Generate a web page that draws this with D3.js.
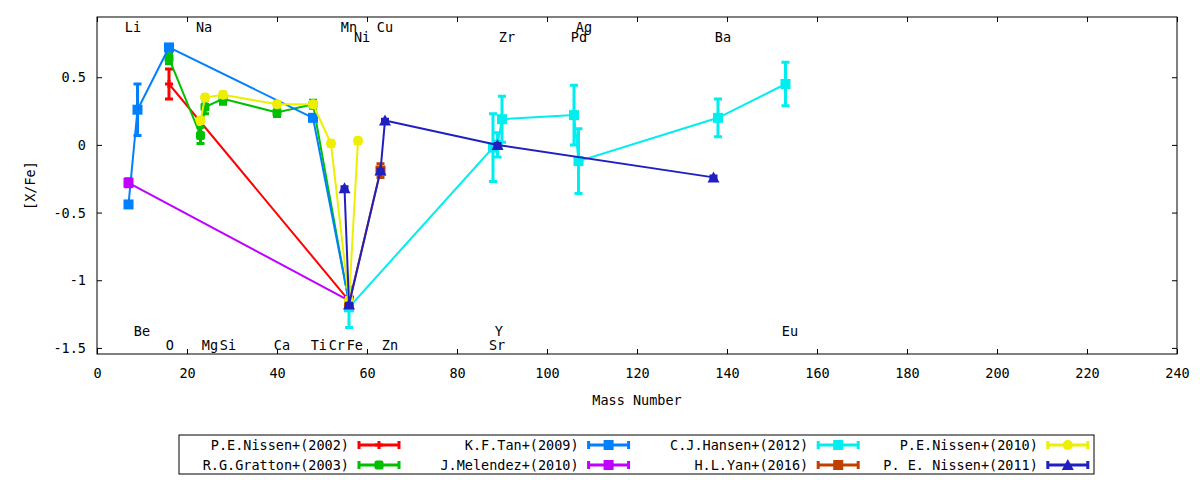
<!DOCTYPE html>
<html><head><meta charset="utf-8">
<script src="https://cdn.jsdelivr.net/npm/d3@7"></script>
<style>
body{margin:0;background:#fff;}
text{font-family:"DejaVu Sans Mono",monospace;font-size:13.5px;fill:#000;}
</style></head>
<body><svg id="c" width="1200" height="480"></svg>
<script>
// ---- data ----
const seriesNames = ["P.E.Nissen+(2002)","R.G.Gratton+(2003)","K.F.Tan+(2009)","J.Melendez+(2010)",
                     "C.J.Hansen+(2012)","H.L.Yan+(2016)","P.E.Nissen+(2010)","P. E. Nissen+(2011)"];
const seriesColors = ["#ff0000","#00c000","#0080ff","#c000ff","#00eeee","#c04000","#eeee00","#2020c0"];
const seriesMarkers = ["plus","blob","square","square","square","square","circle","triangle"];

// mass numbers, [X/Fe] values, errors per series
const nissen2002Mass = [16, 56];
const nissen2002Val  = [0.45, -1.15];
const nissen2002Err  = [0.11, 0.02];

const gratton2003Mass = [16, 23, 24, 28, 40, 48, 56];
const gratton2003Val  = [0.64, 0.07, 0.28, 0.34, 0.24, 0.30, -1.17];
const gratton2003Err  = [0.04, 0.06, 0.05, 0.04, 0.03, 0.03, 0.03];

const tan2009Mass = [7, 9, 16, 48, 56];
const tan2009Val  = [-0.44, 0.26, 0.72, 0.20, -1.16];
const tan2009Err  = [0.02, 0.19, 0.02, 0.02, 0.02];

const melendez2010Mass = [7, 56];
const melendez2010Val  = [-0.28, -1.15];
const melendez2010Err  = [0.03, 0.02];

const hansen2012Mass = [56, 88, 89, 90, 106, 107, 138, 153];
const hansen2012Val  = [-1.20, -0.02, 0.00, 0.19, 0.22, -0.12, 0.20, 0.45];
const hansen2012Err  = [0.15, 0.25, 0.09, 0.17, 0.22, 0.24, 0.14, 0.16];

const yan2016Mass = [56, 63];
const yan2016Val  = [-1.17, -0.19];
const yan2016Err  = [0.02, 0.05];

const nissen2010Mass = [23, 24, 28, 40, 48, 52, 56, 58];
const nissen2010Val  = [0.18, 0.35, 0.37, 0.30, 0.30, 0.01, -1.15, 0.03];
const nissen2010Err  = [0.02, 0.02, 0.02, 0.02, 0.02, 0.02, 0.02, 0.02];

const nissen2011Mass = [55, 56, 63, 64, 89, 137];
const nissen2011Val  = [-0.32, -1.18, -0.19, 0.18, 0.00, -0.24];
const nissen2011Err  = [0.01, 0.01, 0.01, 0.01, 0.01, 0.01];

// element annotation labels (text, mass-axis position, [X/Fe]-axis position)
const elemNames = ["Li","Na","Mn","Ni","Cu","Zr","Ag","Pd","Ba","Be","O","Mg","Si","Ca","Ti","Cr","Fe","Zn","Y","Sr","Eu"];
const elemX     = [8.0, 23.8, 56.0, 58.9, 64.0, 91.1, 108.2, 107.1, 139.1, 10.0, 16.2, 25.1, 29.1, 41.1, 49.3, 53.3, 57.3, 65.1, 89.3, 88.9, 154.0];
const elemY     = [0.87, 0.87, 0.87, 0.795, 0.87, 0.795, 0.87, 0.795, 0.795, -1.375, -1.478, -1.478, -1.478, -1.478, -1.478, -1.478, -1.478, -1.478, -1.375, -1.478, -1.375];

const xTicks = [0,20,40,60,80,100,120,140,160,180,200,220,240];
const yTicks = [-1.5,-1,-0.5,0,0.5];
const xTitle = "Mass Number";
const yTitle = "[X/Fe]";

// ---- build ----
const seriesMass = [nissen2002Mass,gratton2003Mass,tan2009Mass,melendez2010Mass,hansen2012Mass,yan2016Mass,nissen2010Mass,nissen2011Mass];
const seriesVal  = [nissen2002Val,gratton2003Val,tan2009Val,melendez2010Val,hansen2012Val,yan2016Val,nissen2010Val,nissen2011Val];
const seriesErr  = [nissen2002Err,gratton2003Err,tan2009Err,melendez2010Err,hansen2012Err,yan2016Err,nissen2010Err,nissen2011Err];
const series = seriesNames.map((n,i)=>({name:n,color:seriesColors[i],marker:seriesMarkers[i],
  pts:seriesMass[i].map((m,j)=>({m:m,v:seriesVal[i][j],e:seriesErr[i][j]}))}));

const L=97,R=1177,T=17,B=354;
const svg=d3.select("#c");
const x=d3.scaleLinear().domain([0,240]).range([L,R]);
const y=d3.scaleLinear().domain([-1.545,0.945]).range([B,T]);

// axes
const gx=svg.append("g").attr("transform",`translate(0,${B})`)
  .call(d3.axisBottom(x).tickValues(xTicks).tickSizeInner(-5).tickSizeOuter(0).tickPadding(14).tickFormat(d3.format("d")));
const gxt=svg.append("g").attr("transform",`translate(0,${T})`)
  .call(d3.axisTop(x).tickValues(xTicks).tickSizeInner(-5).tickSizeOuter(0).tickFormat(""));
const gy=svg.append("g").attr("transform",`translate(${L},0)`)
  .call(d3.axisLeft(y).tickValues(yTicks).tickSizeInner(-5).tickSizeOuter(0).tickPadding(11).tickFormat(d=>d===0?"0":String(d)));
const gyr=svg.append("g").attr("transform",`translate(${R},0)`)
  .call(d3.axisRight(y).tickValues(yTicks).tickSizeInner(-5).tickSizeOuter(0).tickFormat(""));
[gx,gxt,gy,gyr].forEach(g=>{g.select(".domain").remove();g.selectAll("line").attr("stroke","#000").attr("stroke-width",1);
  g.selectAll("text").attr("font-family","DejaVu Sans Mono").attr("font-size","13.5px").attr("fill","#000");});
gy.selectAll("text").attr("dy","0.35em");

svg.append("rect").attr("x",L).attr("y",T).attr("width",R-L).attr("height",B-T)
  .attr("fill","none").attr("stroke","#000").attr("stroke-width",1);

svg.append("text").attr("x",(L+R)/2).attr("y",405).attr("text-anchor","middle").text(xTitle);
svg.append("text").attr("transform",`translate(35,${(T+B)/2}) rotate(-90)`).attr("text-anchor","middle").text(yTitle);

// element labels
svg.append("g").selectAll("text").data(elemNames).join("text")
  .attr("x",(d,i)=>x(elemX[i])).attr("y",(d,i)=>y(elemY[i]))
  .attr("text-anchor","middle").attr("dy","0.35em").text(d=>d);

function drawMarker(g,type,cx,cy,color){
  if(type==="square") g.append("rect").attr("x",cx-5).attr("y",cy-5).attr("width",10).attr("height",10).attr("fill",color);
  else if(type==="circle") g.append("circle").attr("cx",cx).attr("cy",cy).attr("r",5).attr("fill",color);
  else if(type==="triangle") g.append("path").attr("d",`M${cx},${cy-6}L${cx+6},${cy+5}L${cx-6},${cy+5}Z`).attr("fill",color);
  else if(type==="blob") g.append("rect").attr("x",cx-4.5).attr("y",cy-4.5).attr("width",9).attr("height",9).attr("rx",2).attr("fill",color);
  else if(type==="plus"){ g.append("path").attr("d",`M${cx-4},${cy}H${cx+4}M${cx},${cy-4}V${cy+4}`).attr("stroke",color).attr("stroke-width",3);}
}

const plot=svg.append("g");
series.forEach(s=>{
  const g=plot.append("g");
  g.append("path").datum(s.pts).attr("fill","none").attr("stroke",s.color).attr("stroke-width",2)
    .attr("d",d3.line().x(d=>x(d.m)).y(d=>y(d.v)));
  s.pts.forEach(p=>{
    const cx=x(p.m), y1=y(p.v+p.e), y2=y(p.v-p.e);
    g.append("path").attr("d",`M${cx},${y1}V${y2}M${cx-4},${y1}H${cx+4}M${cx-4},${y2}H${cx+4}`)
      .attr("stroke",s.color).attr("stroke-width",3).attr("fill","none");
    drawMarker(g,s.marker,cx,y(p.v),s.color);
  });
});

// legend
const lg=svg.append("g");
lg.append("rect").attr("x",179).attr("y",435).attr("width",915).attr("height",39).attr("fill","#fff").attr("stroke","#000");
series.forEach((s,i)=>{
  const col=Math.floor(i/2), row=i%2;
  const tx=349+col*229.6, ty=445+row*20;
  lg.append("text").attr("x",tx).attr("y",ty).attr("dy","0.35em").attr("text-anchor","end").text(s.name);
  const x1=tx+10,x2=tx+50,mx=(x1+x2)/2;
  lg.append("path").attr("d",`M${x1},${ty}H${x2}M${x1},${ty-4}V${ty+4}M${x2},${ty-4}V${ty+4}`)
    .attr("stroke",s.color).attr("stroke-width",3).attr("fill","none");
  drawMarker(lg,s.marker,mx,ty,s.color);
});
</script></body></html>
